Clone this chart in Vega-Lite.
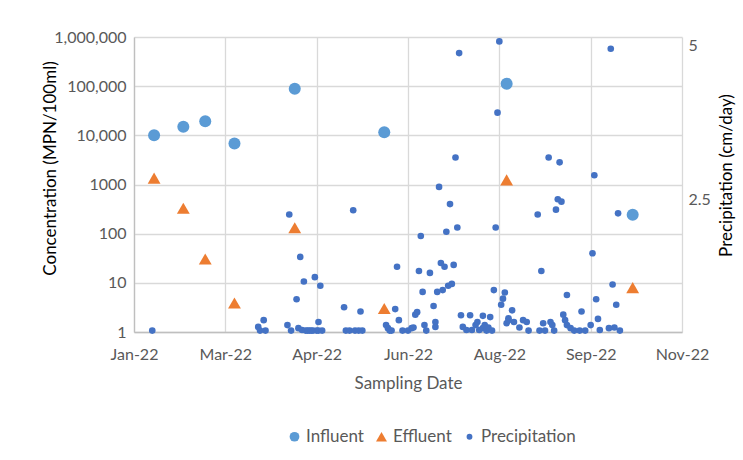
{
  "$schema": "https://vega.github.io/schema/vega-lite/v6.json",
  "width": 548,
  "height": 295,
  "autosize": {"type": "none"},
  "padding": {"left": 134, "top": 37, "right": 61, "bottom": 128},
  "background": "white",
  "config": {
    "view": {"stroke": null},
    "font": "Lato",
    "axis": {"labelFont": "Lato", "titleFont": "Lato", "labelColor": "#595959", "labelFontSize": 16, "titleFontSize": 17, "titleFontWeight": "normal", "gridColor": "#D9D9D9", "gridWidth": 1.3, "domainColor": "#BFBFBF", "domainWidth": 1.3, "ticks": false},
    "legend": {"labelFont": "Lato", "labelFontSize": 17, "labelColor": "#595959"}
  },
  "datasets": {
    "main": [
      {"d": "2022/01/25", "s": "Influent", "v": 10000},
      {"d": "2022/02/10", "s": "Influent", "v": 15000},
      {"d": "2022/02/22", "s": "Influent", "v": 19300},
      {"d": "2022/03/10", "s": "Influent", "v": 6800},
      {"d": "2022/04/12", "s": "Influent", "v": 88700},
      {"d": "2022/05/31", "s": "Influent", "v": 11500},
      {"d": "2022/08/06", "s": "Influent", "v": 112000},
      {"d": "2022/10/14", "s": "Influent", "v": 243},
      {"d": "2022/01/25", "s": "Effluent", "v": 1350},
      {"d": "2022/02/10", "s": "Effluent", "v": 328},
      {"d": "2022/02/22", "s": "Effluent", "v": 30.5},
      {"d": "2022/03/10", "s": "Effluent", "v": 3.9},
      {"d": "2022/04/12", "s": "Effluent", "v": 132},
      {"d": "2022/05/31", "s": "Effluent", "v": 3.0},
      {"d": "2022/08/06", "s": "Effluent", "v": 1240},
      {"d": "2022/10/14", "s": "Effluent", "v": 8.0}
    ],
    "precip": [
      {"d": "2022/01/24", "s": "Precipitation", "p": 0.36},
      {"d": "2022/03/23", "s": "Precipitation", "p": 0.42},
      {"d": "2022/03/24", "s": "Precipitation", "p": 0.36},
      {"d": "2022/03/26", "s": "Precipitation", "p": 0.53},
      {"d": "2022/03/27", "s": "Precipitation", "p": 0.36},
      {"d": "2022/04/08", "s": "Precipitation", "p": 0.45},
      {"d": "2022/04/09", "s": "Precipitation", "p": 2.25},
      {"d": "2022/04/10", "s": "Precipitation", "p": 0.36},
      {"d": "2022/04/13", "s": "Precipitation", "p": 0.87},
      {"d": "2022/04/14", "s": "Precipitation", "p": 0.40},
      {"d": "2022/04/15", "s": "Precipitation", "p": 1.56},
      {"d": "2022/04/16", "s": "Precipitation", "p": 0.37},
      {"d": "2022/04/17", "s": "Precipitation", "p": 1.16},
      {"d": "2022/04/18", "s": "Precipitation", "p": 0.36},
      {"d": "2022/04/19", "s": "Precipitation", "p": 0.36},
      {"d": "2022/04/20", "s": "Precipitation", "p": 0.36},
      {"d": "2022/04/21", "s": "Precipitation", "p": 0.36},
      {"d": "2022/04/22", "s": "Precipitation", "p": 0.36},
      {"d": "2022/04/23", "s": "Precipitation", "p": 1.23},
      {"d": "2022/04/24", "s": "Precipitation", "p": 0.36},
      {"d": "2022/04/25", "s": "Precipitation", "p": 0.50},
      {"d": "2022/04/25", "s": "Precipitation", "p": 0.36},
      {"d": "2022/04/26", "s": "Precipitation", "p": 1.09},
      {"d": "2022/04/27", "s": "Precipitation", "p": 0.36},
      {"d": "2022/05/09", "s": "Precipitation", "p": 0.74},
      {"d": "2022/05/10", "s": "Precipitation", "p": 0.36},
      {"d": "2022/05/12", "s": "Precipitation", "p": 0.36},
      {"d": "2022/05/14", "s": "Precipitation", "p": 2.32},
      {"d": "2022/05/15", "s": "Precipitation", "p": 0.36},
      {"d": "2022/05/17", "s": "Precipitation", "p": 0.36},
      {"d": "2022/05/18", "s": "Precipitation", "p": 0.67},
      {"d": "2022/05/19", "s": "Precipitation", "p": 0.36},
      {"d": "2022/06/01", "s": "Precipitation", "p": 0.45},
      {"d": "2022/06/02", "s": "Precipitation", "p": 0.40},
      {"d": "2022/06/03", "s": "Precipitation", "p": 0.36},
      {"d": "2022/06/04", "s": "Precipitation", "p": 0.36},
      {"d": "2022/06/06", "s": "Precipitation", "p": 0.71},
      {"d": "2022/06/07", "s": "Precipitation", "p": 1.40},
      {"d": "2022/06/08", "s": "Precipitation", "p": 0.53},
      {"d": "2022/06/10", "s": "Precipitation", "p": 0.36},
      {"d": "2022/06/13", "s": "Precipitation", "p": 0.36},
      {"d": "2022/06/15", "s": "Precipitation", "p": 0.40},
      {"d": "2022/06/16", "s": "Precipitation", "p": 0.41},
      {"d": "2022/06/17", "s": "Precipitation", "p": 0.62},
      {"d": "2022/06/18", "s": "Precipitation", "p": 0.66},
      {"d": "2022/06/19", "s": "Precipitation", "p": 1.33},
      {"d": "2022/06/20", "s": "Precipitation", "p": 1.90},
      {"d": "2022/06/21", "s": "Precipitation", "p": 0.99},
      {"d": "2022/06/22", "s": "Precipitation", "p": 0.45},
      {"d": "2022/06/23", "s": "Precipitation", "p": 0.36},
      {"d": "2022/06/25", "s": "Precipitation", "p": 1.30},
      {"d": "2022/06/27", "s": "Precipitation", "p": 0.76},
      {"d": "2022/06/28", "s": "Precipitation", "p": 0.42},
      {"d": "2022/06/28", "s": "Precipitation", "p": 0.50},
      {"d": "2022/06/29", "s": "Precipitation", "p": 0.99},
      {"d": "2022/06/30", "s": "Precipitation", "p": 2.70},
      {"d": "2022/07/01", "s": "Precipitation", "p": 1.46},
      {"d": "2022/07/02", "s": "Precipitation", "p": 1.02},
      {"d": "2022/07/03", "s": "Precipitation", "p": 1.40},
      {"d": "2022/07/04", "s": "Precipitation", "p": 1.97},
      {"d": "2022/07/05", "s": "Precipitation", "p": 1.09},
      {"d": "2022/07/06", "s": "Precipitation", "p": 2.42},
      {"d": "2022/07/07", "s": "Precipitation", "p": 1.12},
      {"d": "2022/07/08", "s": "Precipitation", "p": 1.43},
      {"d": "2022/07/09", "s": "Precipitation", "p": 3.18},
      {"d": "2022/07/10", "s": "Precipitation", "p": 2.04},
      {"d": "2022/07/11", "s": "Precipitation", "p": 4.88},
      {"d": "2022/07/12", "s": "Precipitation", "p": 0.61},
      {"d": "2022/07/13", "s": "Precipitation", "p": 0.42},
      {"d": "2022/07/15", "s": "Precipitation", "p": 0.37},
      {"d": "2022/07/17", "s": "Precipitation", "p": 0.61},
      {"d": "2022/07/18", "s": "Precipitation", "p": 0.37},
      {"d": "2022/07/20", "s": "Precipitation", "p": 0.45},
      {"d": "2022/07/21", "s": "Precipitation", "p": 0.50},
      {"d": "2022/07/22", "s": "Precipitation", "p": 0.37},
      {"d": "2022/07/24", "s": "Precipitation", "p": 0.60},
      {"d": "2022/07/24", "s": "Precipitation", "p": 0.40},
      {"d": "2022/07/25", "s": "Precipitation", "p": 0.45},
      {"d": "2022/07/26", "s": "Precipitation", "p": 0.36},
      {"d": "2022/07/27", "s": "Precipitation", "p": 0.41},
      {"d": "2022/07/28", "s": "Precipitation", "p": 0.58},
      {"d": "2022/07/29", "s": "Precipitation", "p": 0.36},
      {"d": "2022/07/30", "s": "Precipitation", "p": 1.02},
      {"d": "2022/07/31", "s": "Precipitation", "p": 2.04},
      {"d": "2022/08/01", "s": "Precipitation", "p": 3.91},
      {"d": "2022/08/02", "s": "Precipitation", "p": 5.07},
      {"d": "2022/08/03", "s": "Precipitation", "p": 0.78},
      {"d": "2022/08/04", "s": "Precipitation", "p": 0.88},
      {"d": "2022/08/05", "s": "Precipitation", "p": 0.98},
      {"d": "2022/08/06", "s": "Precipitation", "p": 0.48},
      {"d": "2022/08/07", "s": "Precipitation", "p": 0.56},
      {"d": "2022/08/07", "s": "Precipitation", "p": 0.53},
      {"d": "2022/08/09", "s": "Precipitation", "p": 0.69},
      {"d": "2022/08/10", "s": "Precipitation", "p": 0.50},
      {"d": "2022/08/13", "s": "Precipitation", "p": 0.41},
      {"d": "2022/08/15", "s": "Precipitation", "p": 0.53},
      {"d": "2022/08/17", "s": "Precipitation", "p": 0.50},
      {"d": "2022/08/18", "s": "Precipitation", "p": 0.36},
      {"d": "2022/08/23", "s": "Precipitation", "p": 2.25},
      {"d": "2022/08/24", "s": "Precipitation", "p": 0.36},
      {"d": "2022/08/25", "s": "Precipitation", "p": 1.33},
      {"d": "2022/08/26", "s": "Precipitation", "p": 0.48},
      {"d": "2022/08/27", "s": "Precipitation", "p": 0.36},
      {"d": "2022/08/29", "s": "Precipitation", "p": 3.18},
      {"d": "2022/08/30", "s": "Precipitation", "p": 0.50},
      {"d": "2022/08/31", "s": "Precipitation", "p": 0.45},
      {"d": "2022/09/01", "s": "Precipitation", "p": 0.36},
      {"d": "2022/09/02", "s": "Precipitation", "p": 2.33},
      {"d": "2022/09/03", "s": "Precipitation", "p": 2.50},
      {"d": "2022/09/04", "s": "Precipitation", "p": 3.10},
      {"d": "2022/09/05", "s": "Precipitation", "p": 2.46},
      {"d": "2022/09/06", "s": "Precipitation", "p": 0.62},
      {"d": "2022/09/07", "s": "Precipitation", "p": 0.53},
      {"d": "2022/09/08", "s": "Precipitation", "p": 0.94},
      {"d": "2022/09/08", "s": "Precipitation", "p": 0.45},
      {"d": "2022/09/10", "s": "Precipitation", "p": 0.40},
      {"d": "2022/09/12", "s": "Precipitation", "p": 0.36},
      {"d": "2022/09/15", "s": "Precipitation", "p": 0.36},
      {"d": "2022/09/16", "s": "Precipitation", "p": 0.67},
      {"d": "2022/09/18", "s": "Precipitation", "p": 0.36},
      {"d": "2022/09/21", "s": "Precipitation", "p": 0.45},
      {"d": "2022/09/22", "s": "Precipitation", "p": 1.62},
      {"d": "2022/09/23", "s": "Precipitation", "p": 2.89},
      {"d": "2022/09/24", "s": "Precipitation", "p": 0.87},
      {"d": "2022/09/25", "s": "Precipitation", "p": 0.55},
      {"d": "2022/09/26", "s": "Precipitation", "p": 0.37},
      {"d": "2022/10/01", "s": "Precipitation", "p": 0.40},
      {"d": "2022/10/02", "s": "Precipitation", "p": 4.95},
      {"d": "2022/10/03", "s": "Precipitation", "p": 1.11},
      {"d": "2022/10/04", "s": "Precipitation", "p": 0.41},
      {"d": "2022/10/05", "s": "Precipitation", "p": 0.78},
      {"d": "2022/10/06", "s": "Precipitation", "p": 2.27},
      {"d": "2022/10/07", "s": "Precipitation", "p": 0.36}
    ]
  },
  "encoding": {
    "x": {
      "field": "d", "type": "temporal",
      "scale": {"domain": [{"year": 2022, "month": 1, "date": 14}, {"year": 2022, "month": 11, "date": 10}], "nice": false},
      "axis": {
        "values": [{"year": 2022, "month": 1, "date": 14}, {"year": 2022, "month": 3, "date": 5}, {"year": 2022, "month": 4, "date": 24}, {"year": 2022, "month": 6, "date": 13}, {"year": 2022, "month": 8, "date": 2}, {"year": 2022, "month": 9, "date": 21}, {"year": 2022, "month": 11, "date": 10}],
        "format": "%b-%y", "title": "Sampling Date", "titleColor": "#595959",
        "labelPadding": 14, "labelFlush": false, "labelOverlap": false,
        "titleX": 274, "titleY": 51, "titleBaseline": "middle", "titleAlign": "center"
      }
    },
    "color": {"field": "s", "type": "nominal", "scale": {"domain": ["Influent", "Effluent", "Precipitation"], "range": ["#5B9BD5", "#ED7D31", "#4472C4"]},
      "legend": {"title": null, "orient": "none", "legendX": 152, "legendY": 391, "direction": "horizontal", "columnPadding": 9, "labelOffset": 3, "symbolStrokeWidth": 0, "symbolOpacity": 1,
        "encode": {"symbols": {"update": {"size": {"signal": "datum.value === 'Precipitation' ? 34 : datum.value === 'Effluent' ? 120 : 95"}}}}}},
    "shape": {"field": "s", "type": "nominal", "scale": {"domain": ["Influent", "Effluent", "Precipitation"], "range": ["circle", "triangle-up", "circle"]}}
  },
  "layer": [
    {
      "data": {"name": "main"},
      "mark": {"type": "point", "filled": true, "opacity": 1, "strokeWidth": 0},
      "encoding": {
        "size": {"condition": {"test": "datum.s === 'Effluent'", "value": 165}, "value": 145},
        "y": {
          "field": "v", "type": "quantitative",
          "scale": {"type": "log", "domain": [1, 1000000], "nice": false},
          "axis": {
            "values": [1, 10, 100, 1000, 10000, 100000, 1000000],
            "labelExpr": "datum.value >= 10000 ? format(datum.value, ',') : format(datum.value, 'd')",
            "title": "Concentration (MPN/100ml)", "titleColor": "#000000",
            "labelPadding": 8,
            "titleX": -84, "titleY": 131, "titleAngle": -90, "titleBaseline": "middle", "titleAlign": "center"
          }
        }
      }
    },
    {
      "data": {"name": "precip"},
      "mark": {"type": "point", "filled": true, "opacity": 1, "strokeWidth": 0, "size": 44},
      "encoding": {
        "y": {
          "field": "p", "type": "quantitative",
          "scale": {"domain": [0.337, 5.142], "nice": false, "zero": false},
          "axis": {
            "orient": "right", "values": [2.5, 5], "format": ".1~f", "grid": false, "domain": false,
            "title": "Precipitation (cm/day)", "titleColor": "#000000",
            "labelPadding": 6, "labelBaseline": "middle",
            "titleX": 44, "titleY": 138, "titleAngle": -90, "titleBaseline": "middle", "titleAlign": "center"
          }
        }
      }
    }
  ],
  "resolve": {"scale": {"y": "independent"}}
}
